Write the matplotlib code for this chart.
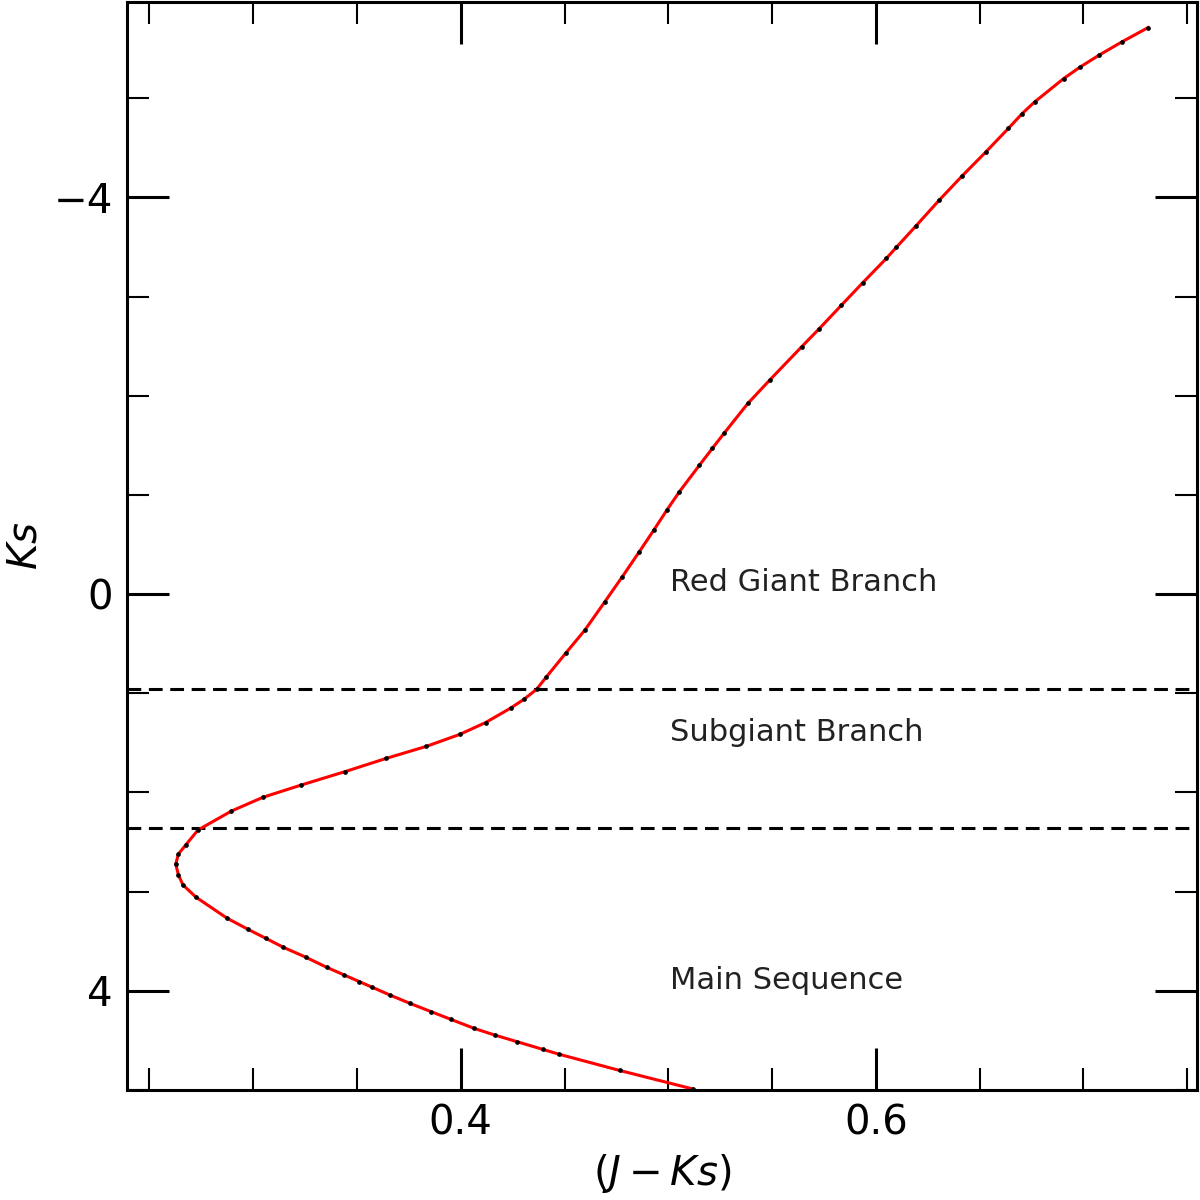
import matplotlib
matplotlib.use("Agg")
import matplotlib.pyplot as plt
from matplotlib.ticker import MultipleLocator

# isochrone points, ordered from the faint end up the RGB
color_jk = [0.5118, 0.4765, 0.4474, 0.4394, 0.4271, 0.4163, 0.4063, 0.3951,
            0.3858, 0.3754, 0.3658, 0.3574, 0.3512, 0.3439, 0.3354, 0.3254,
            0.3146, 0.3061, 0.2975, 0.2875, 0.2725, 0.2662, 0.2640, 0.2627,
            0.2640, 0.2675, 0.2734, 0.2895, 0.3047, 0.3232, 0.3441, 0.3642,
            0.3835, 0.3995, 0.4120, 0.4240, 0.4305, 0.4365, 0.4413, 0.4505,
            0.4598, 0.4694, 0.4778, 0.4860, 0.4930, 0.4993, 0.5053, 0.5150,
            0.5212, 0.5268, 0.5383, 0.5488, 0.5642, 0.5728, 0.5834, 0.5936,
            0.6050, 0.6098, 0.6192, 0.6305, 0.6413, 0.6530, 0.6638, 0.6705,
            0.6765, 0.6905, 0.6985, 0.7075, 0.7185, 0.7312]
mag_ks = [4.990, 4.803, 4.640, 4.590, 4.513, 4.446, 4.378, 4.287,
          4.211, 4.126, 4.042, 3.965, 3.908, 3.841, 3.763, 3.662,
          3.562, 3.471, 3.380, 3.269, 3.057, 2.933, 2.833, 2.722,
          2.620, 2.530, 2.379, 2.188, 2.049, 1.925, 1.791, 1.656,
          1.535, 1.415, 1.295, 1.150, 1.060, 0.961, 0.834, 0.598,
          0.363, 0.078, -0.174, -0.426, -0.645, -0.847, -1.031, -1.300,
          -1.469, -1.620, -1.922, -2.157, -2.493, -2.678, -2.913, -3.138,
          -3.384, -3.495, -3.710, -3.972, -4.211, -4.459, -4.695, -4.846,
          -4.963, -5.199, -5.316, -5.434, -5.568, -5.713]

# boundaries between evolutionary phases
boundaries = [0.96, 2.36]
phase_names = ["Red Giant Branch", "Subgiant Branch", "Main Sequence"]
phase_pos = [-0.12, 1.40, 3.90]

fig = plt.figure(figsize=(12, 12), dpi=100)
ax = fig.add_axes([0.1058, 0.0917, 0.8917, 0.9066])

ax.plot(color_jk, mag_ks, color="red", lw=2.2, zorder=2)
ax.plot(color_jk, mag_ks, "o", color="black", ms=3.4, mew=0, zorder=3)

for b in boundaries:
    ax.axhline(b, color="black", lw=2.2, linestyle=(0, (4.5, 2.5)), zorder=1)

for name, pos in zip(phase_names, phase_pos):
    ax.text(0.5007, pos, name, fontsize=22, color="#222222",
            ha="left", va="center")

ax.set_xlim(0.2392, 0.7547)
ax.set_ylim(5.0, -5.97)

ax.xaxis.set_major_locator(MultipleLocator(0.2))
ax.xaxis.set_minor_locator(MultipleLocator(0.05))
ax.yaxis.set_major_locator(MultipleLocator(4))
ax.yaxis.set_minor_locator(MultipleLocator(1))

ax.tick_params(which="both", direction="in", top=True, right=True,
               labelsize=29, pad=10)
ax.tick_params(which="major", length=30, width=2.2)
ax.tick_params(which="minor", length=16, width=1.5)
for s in ax.spines.values():
    s.set_linewidth(2.2)

ax.set_xlabel(r"$(J - Ks)$", fontsize=29, labelpad=6)
ax.set_ylabel(r"$Ks$", fontsize=29, labelpad=6)

fig.savefig("out.png", dpi=100)
